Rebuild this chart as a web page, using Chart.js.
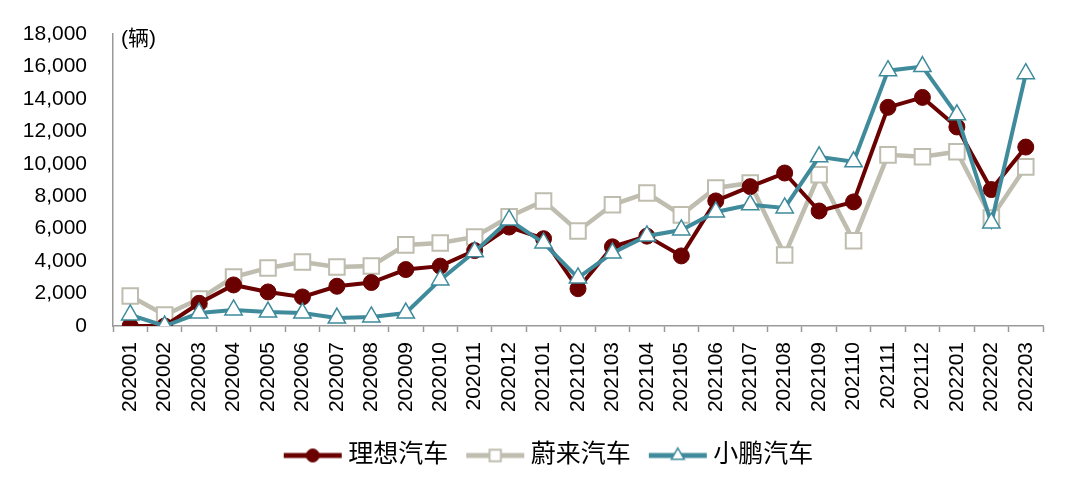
<!DOCTYPE html>
<html>
<head>
<meta charset="utf-8">
<script src="https://cdn.jsdelivr.net/npm/chart.js@4/dist/chart.umd.min.js"></script>
<style>
  html, body { margin: 0; padding: 0; background: #fff; }
  #wrap { width: 1080px; height: 494px; }
</style>
</head>
<body>
<div id="wrap"><canvas id="myChart" width="1080" height="494"></canvas></div>
<script>
const months = ['202001', '202002', '202003', '202004', '202005', '202006', '202007', '202008', '202009',
    '202010', '202011', '202012', '202101', '202102', '202103', '202104', '202105', '202106', '202107',
    '202108', '202109', '202110', '202111', '202112', '202201', '202202', '202203'];

const liValues = [0, 0, 1400, 2530, 2100, 1790, 2450, 2680, 3480, 3690, 4650, 6100, 5380, 2300,
    4880, 5540, 4320, 7710, 8590, 9430, 7090, 7650, 13480, 14090, 12270, 8410, 11030];
const nioValues = [1850, 680, 1660, 3020, 3580, 3950, 3640, 3700, 5000, 5120, 5490, 6730, 7710, 5860,
    7470, 8200, 6850, 8510, 8820, 4380, 9320, 5250, 10550, 10430, 10740, 6660, 9810];
const xpengValues = [680, 0, 800, 990, 860, 800, 490, 560, 800, 2840, 4570, 6540, 5120, 2960,
    4500, 5550, 5920, 7030, 7470, 7280, 10430, 10120, 15740, 15990, 13020, 6350, 15550];

const seriesNames = ['理想汽车', '蔚来汽车', '小鹏汽车'];
const yTicks = [0, 2000, 4000, 6000, 8000, 10000, 12000, 14000, 16000, 18000];

const FONT = "'Liberation Sans', Arial, 'Noto Sans CJK SC', sans-serif";
const RED = '#6b0000';
const GREY = '#bfbdaf';
const TEAL = '#3f8b9c';

// small line+marker pictures for the legend
function legendIcon(color, style, radius, fill, bw) {
    const c = document.createElement('canvas');
    c.width = 60; c.height = 22;
    const g = c.getContext('2d');
    g.strokeStyle = color;
    g.lineWidth = 5;
    g.beginPath(); g.moveTo(1, 11); g.lineTo(59, 11); g.stroke();
    g.fillStyle = fill;
    g.lineWidth = bw;
    Chart.helpers.drawPoint(g, { pointStyle: style, radius: radius, borderWidth: bw }, 30, 11);
    return c;
}

// unit label top left
const unitLabel = {
    id: 'unitLabel',
    afterDraw(chart) {
        const ctx = chart.ctx;
        ctx.save();
        ctx.font = '21px ' + FONT;
        ctx.fillStyle = '#000';
        ctx.textBaseline = 'middle';
        ctx.fillText('(辆)', 121, 39);
        ctx.restore();
    }
};

// legend sits a bit right of centre in the original
const legendShift = {
    id: 'legendShift',
    afterUpdate(chart) {
        chart.legend.left += 25;
        chart.legend.right += 25;
    }
};

const ctx = document.getElementById('myChart').getContext('2d');
const myChart = new Chart(ctx, {
    type: 'line',
    data: {
        labels: months,
        datasets: [{
            label: seriesNames[0],
            data: liValues,
            borderColor: RED,
            backgroundColor: RED,
            borderWidth: 4,
            pointStyle: 'circle',
            pointRadius: 8,
            pointBackgroundColor: RED,
            pointBorderColor: RED,
            pointBorderWidth: 1,
            order: 1
        }, {
            label: seriesNames[1],
            data: nioValues,
            borderColor: GREY,
            backgroundColor: '#fff',
            borderWidth: 4.5,
            pointStyle: 'rect',
            pointRadius: 11,
            pointBackgroundColor: '#fff',
            pointBorderColor: GREY,
            pointBorderWidth: 2,
            order: 2
        }, {
            label: seriesNames[2],
            data: xpengValues,
            borderColor: TEAL,
            backgroundColor: '#fff',
            borderWidth: 4,
            pointStyle: 'triangle',
            pointRadius: 10,
            pointBackgroundColor: '#fff',
            pointBorderColor: TEAL,
            pointBorderWidth: 1.5,
            order: 0
        }]
    },
    options: {
        responsive: false,
        animation: false,
        devicePixelRatio: 1,
        layout: { padding: { left: 10, right: 37, top: 34, bottom: 16 } },
        elements: { line: { tension: 0 } },
        scales: {
            x: {
                offset: true,
                grid: {
                    offset: true,
                    drawOnChartArea: false,
                    color: '#999',
                    tickLength: 6,
                    tickWidth: 1.5
                },
                border: { color: '#999', width: 1.5 },
                ticks: {
                    minRotation: 90,
                    maxRotation: 90,
                    autoSkip: false,
                    padding: 10,
                    color: '#000',
                    font: { family: FONT, size: 21 }
                },
                afterFit(scale) {
                    scale.height = 93;
                    scale.paddingTop = 0;
                    scale.paddingBottom = 0;
                }
            },
            y: {
                min: 0,
                max: 18000,
                afterBuildTicks(scale) { scale.ticks = yTicks.map(v => ({ value: v })); },
                grid: { drawOnChartArea: false, drawTicks: false },
                border: { color: '#999', width: 1.5 },
                ticks: {
                    padding: 26,
                    color: '#000',
                    font: { family: FONT, size: 21 },
                    callback: v => v.toLocaleString('en-US')
                },
                afterFit(scale) {
                    scale.width = 103;
                    scale.paddingTop = 0;
                    scale.paddingBottom = 0;
                }
            }
        },
        plugins: {
            tooltip: { enabled: false },
            legend: {
                position: 'bottom',
                labels: {
                    usePointStyle: true,
                    pointStyleWidth: 46,
                    padding: 24,
                    color: '#000',
                    font: { family: FONT, size: 25 },
                    generateLabels(chart) {
                        const icons = [
                            legendIcon(RED, 'circle', 6.5, RED, 1),
                            legendIcon(GREY, 'rect', 8, '#fff', 2),
                            legendIcon(TEAL, 'triangle', 7.5, '#fff', 1.5)
                        ];
                        return chart.data.datasets.map((ds, i) => ({
                            text: ds.label,
                            pointStyle: icons[i],
                            fillStyle: ds.pointBackgroundColor,
                            strokeStyle: ds.borderColor,
                            lineWidth: 0,
                            hidden: false,
                            fontColor: '#000',
                            datasetIndex: i
                        }));
                    }
                }
            }
        }
    },
    plugins: [unitLabel, legendShift]
});
</script>
</body>
</html>
